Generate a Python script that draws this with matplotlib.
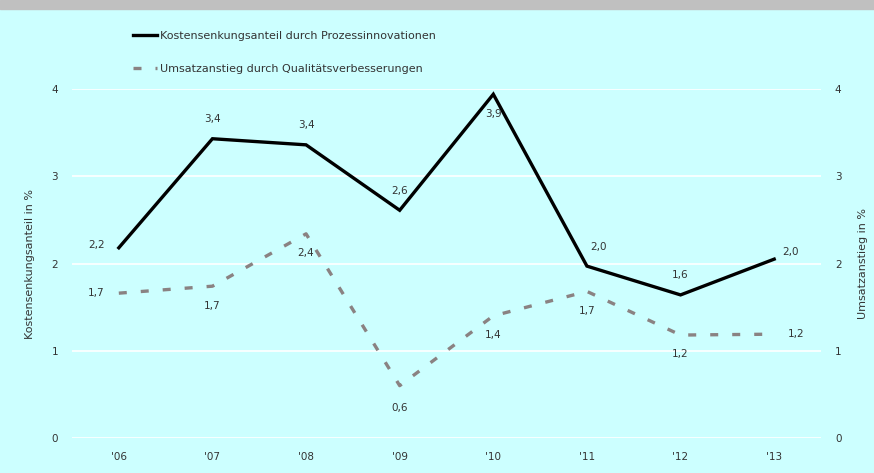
import matplotlib.pyplot as plt
from matplotlib.patches import Rectangle

years = ["'06", "'07", "'08", "'09", "'10", "'11", "'12", "'13"]
kosten = [2.18, 3.43, 3.36, 2.61, 3.94, 1.97, 1.64, 2.05]
umsatz = [1.66, 1.74, 2.34, 0.60, 1.40, 1.68, 1.18, 1.19]
kosten_lbl = ['2,2', '3,4', '3,4', '2,6', '3,9', '2,0', '1,6', '2,0']
umsatz_lbl = ['1,7', '1,7', '2,4', '0,6', '1,4', '1,7', '1,2', '1,2']
# label offsets in points (dx, dy)
kosten_off = [(-16, 2), (0, 14), (0, 14), (0, 14), (0, -14), (8, 14), (0, 14), (12, 5)]
umsatz_off = [(-16, 0), (0, -14), (0, -14), (0, -16), (0, -14), (0, -14), (0, -14), (16, 0)]

bg = '#ccffff'
txt = '#333333'
plt.rcParams['font.family'] = 'DejaVu Sans'

fig = plt.figure(figsize=(8.74, 4.73), dpi=100, facecolor=bg)
fig.patches.append(Rectangle((0, 1 - 9 / 473), 1, 9 / 473, transform=fig.transFigure,
                             color='#c0c0c0', zorder=0))
ax = fig.add_axes([72 / 874, 1 - 438 / 473, (821 - 72) / 874, (438 - 89) / 473])
ax.set_facecolor(bg)
x = range(len(years))

l1, = ax.plot(x, kosten, color='black', lw=2.4, solid_joinstyle='miter', clip_on=False,
              label='Kostensenkungsanteil durch Prozessinnovationen')
l2, = ax.plot(x, umsatz, color='#8a8282', lw=2.4, dashes=(2.4, 4.2), dash_capstyle='butt',
              clip_on=False, label='Umsatzanstieg durch Qualitätsverbesserungen')

for i in x:
    ax.annotate(kosten_lbl[i], (i, kosten[i]), xytext=kosten_off[i], textcoords='offset points',
                ha='center', va='center', fontsize=7.5, color=txt)
    ax.annotate(umsatz_lbl[i], (i, umsatz[i]), xytext=umsatz_off[i], textcoords='offset points',
                ha='center', va='center', fontsize=7.5, color=txt)

ax.set_xlim(-0.5, 7.5)
ax.set_ylim(0, 4)
ax.set_xticks(list(x))
ax.set_xticklabels(years)
ax.set_yticks([0, 1, 2, 3, 4])
ax.grid(axis='y', color='white', lw=1.2)
ax.set_axisbelow(True)
for s in ax.spines.values():
    s.set_visible(False)
ax.tick_params(length=0, labelsize=7.5, colors=txt, pad=10)
ax.set_ylabel('Kostensenkungsanteil in %', fontsize=8, color=txt, labelpad=12)

ax2 = ax.twinx()
ax2.set_ylim(0, 4)
ax2.set_yticks([0, 1, 2, 3, 4])
for s in ax2.spines.values():
    s.set_visible(False)
ax2.tick_params(length=0, labelsize=7.5, colors=txt, pad=10)
ax2.set_ylabel('Umsatzanstieg in %', fontsize=8, color=txt, labelpad=12)

fig.legend(handles=[l1, l2], loc='upper left', bbox_to_anchor=(123 / 874, 1 - 21 / 473),
           frameon=False, fontsize=8, handlelength=2.2, handletextpad=0.25,
           labelspacing=2.1, labelcolor=txt)

fig.savefig('out.png', dpi=100, facecolor=bg)
